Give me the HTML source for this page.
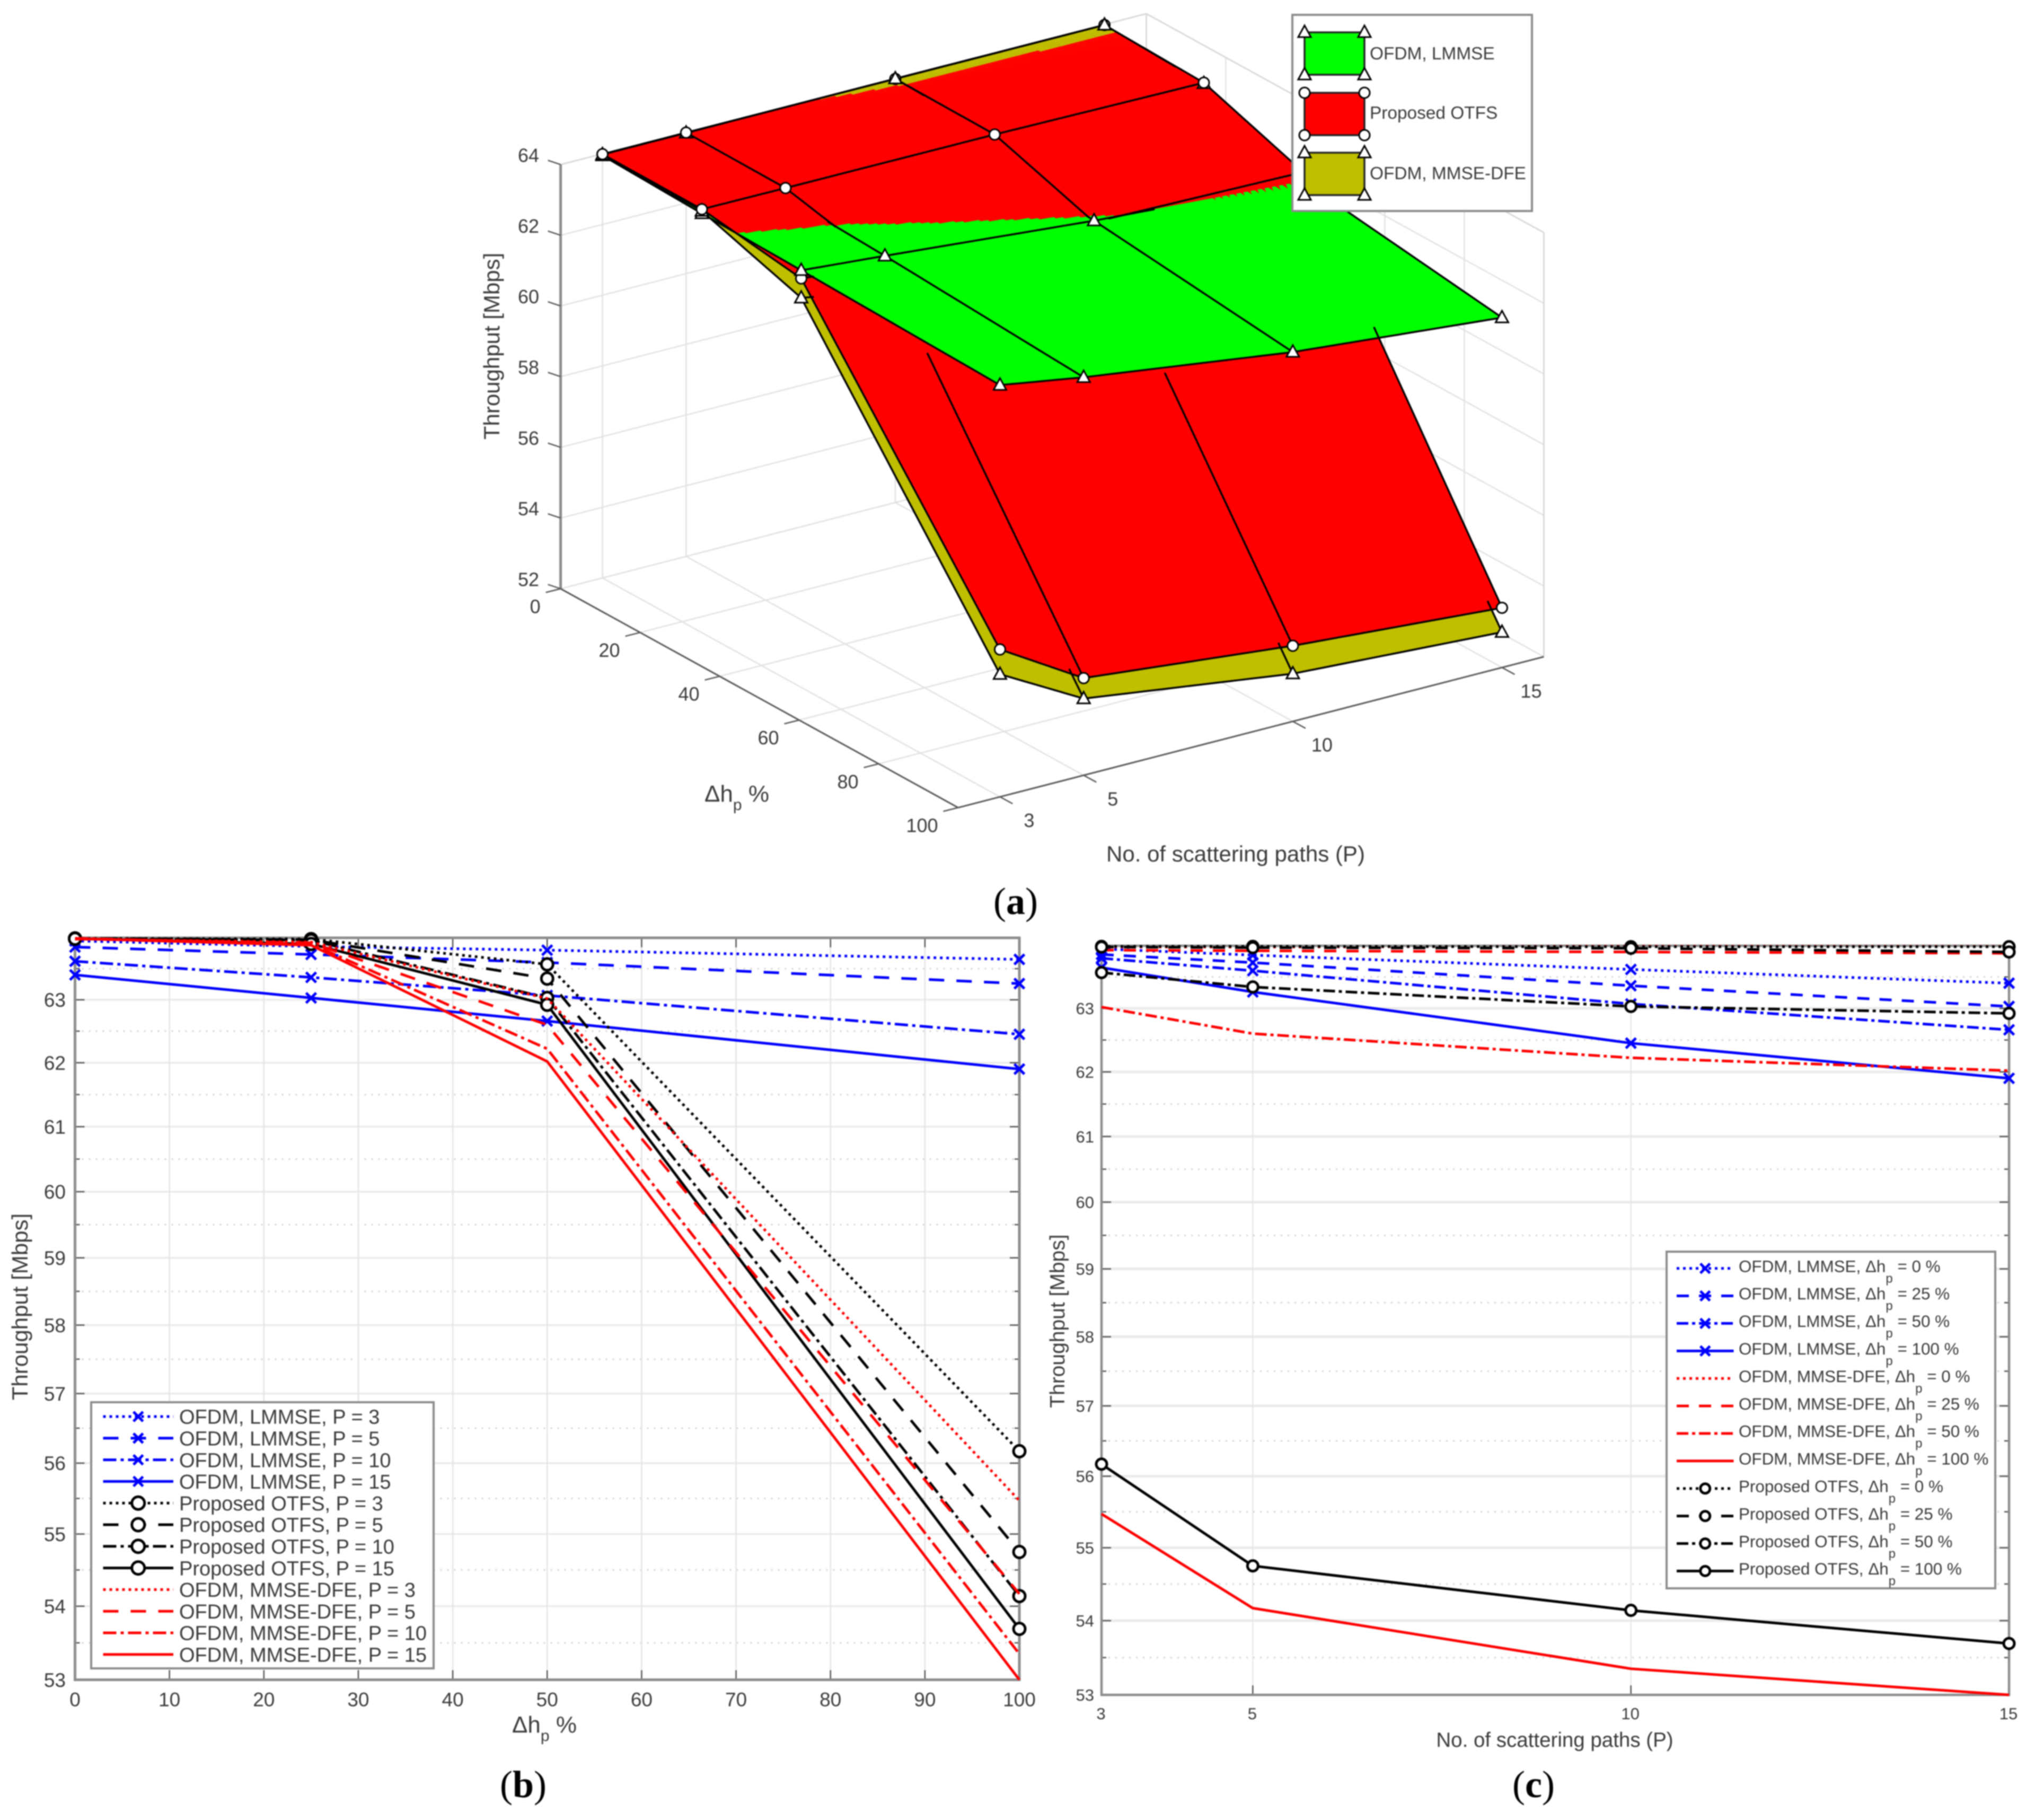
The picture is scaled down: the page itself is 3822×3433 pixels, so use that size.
<!DOCTYPE html>
<html lang="en">
<head>
<meta charset="utf-8">
<title>Throughput comparison of OFDM and Proposed OTFS</title>
<style>
html,body{margin:0;padding:0;background:#fff;}
svg{display:block;font-family:"Liberation Sans",sans-serif;white-space:pre;filter:blur(1.1px);}
</style>
</head>
<body>
<svg id="figure" xmlns="http://www.w3.org/2000/svg" width="3822" height="3433" viewBox="0 0 3822 3433">
  <rect x="0" y="0" width="3822" height="3433" fill="#ffffff"/>
  <g id="panel-a"></g>
  <g id="panel-b"></g>
  <g id="panel-c"></g>

  <text x="928" y="667" font-size="42" fill="#3a3a3a" text-anchor="middle" transform="rotate(-90 928 653)">Throughput [Mbps]</text>
  <text x="1390" y="1512" font-size="44" fill="#3a3a3a" text-anchor="middle">Δh<tspan dy="16" font-size="30">p</tspan><tspan dy="-16">  %</tspan></text>
  <text x="2331" y="1625" font-size="42" fill="#3a3a3a" text-anchor="middle">No. of scattering paths (P)</text>

  <text x="38" y="2479" font-size="42" fill="#3a3a3a" text-anchor="middle" transform="rotate(-90 38 2465)">Throughput [Mbps]</text>
  <text x="1027" y="3268" font-size="44" fill="#3a3a3a" text-anchor="middle">Δh<tspan dy="16" font-size="30">p</tspan><tspan dy="-16">  %</tspan></text>

  <text x="1994" y="2506" font-size="39" fill="#3a3a3a" text-anchor="middle" transform="rotate(-90 1994 2492)">Throughput [Mbps]</text>
  <text x="2933" y="3295" font-size="38.5" fill="#3a3a3a" text-anchor="middle">No. of scattering paths (P)</text>

  <text x="1916" y="1724" font-size="72" fill="#000" text-anchor="middle" font-family="'Liberation Serif',serif">(<tspan font-weight="bold">a</tspan>)</text>
  <text x="987" y="3390" font-size="72" fill="#000" text-anchor="middle" font-family="'Liberation Serif',serif">(<tspan font-weight="bold">b</tspan>)</text>
  <text x="2893" y="3390" font-size="72" fill="#000" text-anchor="middle" font-family="'Liberation Serif',serif">(<tspan font-weight="bold">c</tspan>)</text>
</svg>
<script>
// ---- Categories ----
const deltaValues = [0, 25, 50, 100];
const pathValues = [3, 5, 10, 15];

// ---- Throughput [Mbps]; each array is one P, columns follow deltaValues ----
const lmmseP3 = [63.95, 63.86, 63.80, 63.65];
const lmmseP5 = [63.85, 63.73, 63.60, 63.26];
const lmmseP10 = [63.62, 63.36, 63.07, 62.45];
const lmmseP15 = [63.40, 63.03, 62.66, 61.90];

const otfsP3 = [63.99, 63.98, 63.57, 56.17];
const otfsP5 = [63.99, 63.97, 63.34, 54.75];
const otfsP10 = [63.985, 63.96, 63.03, 54.14];
const otfsP15 = [63.985, 63.90, 62.92, 53.69];

const dfeP3 = [63.98, 63.93, 63.02, 55.47];
const dfeP5 = [63.98, 63.92, 62.60, 54.17];
const dfeP10 = [63.992, 63.90, 62.22, 53.35];
const dfeP15 = [63.988, 63.88, 62.02, 53.00];

// ---- Tick labels ----
const panelBXTicks = [0, 10, 20, 30, 40, 50, 60, 70, 80, 90, 100];
const panelYMajorTicks = [53, 54, 55, 56, 57, 58, 59, 60, 61, 62, 63];
const panelYMinorTicks = [53.5, 54.5, 55.5, 56.5, 57.5, 58.5, 59.5, 60.5, 61.5, 62.5, 63.5];
const panelCXTicks = [3, 5, 10, 15];
const surfaceZTicks = [52, 54, 56, 58, 60, 62, 64];
const surfaceDeltaTicks = [0, 20, 40, 60, 80, 100];
const surfacePathTicks = [3, 5, 10, 15];

// ---- Series names ----
const lmmseName = 'OFDM, LMMSE';
const otfsName = 'Proposed OTFS';
const dfeName = 'OFDM, MMSE-DFE';

const lmmseRows = [lmmseP3, lmmseP5, lmmseP10, lmmseP15];
const otfsRows = [otfsP3, otfsP5, otfsP10, otfsP15];
const dfeRows = [dfeP3, dfeP5, dfeP10, dfeP15];

const SVGNS = 'http://www.w3.org/2000/svg';
const TEXT_COLOR = '#3a3a3a';

function add(parent, tag, attrs) {
  const el = document.createElementNS(SVGNS, tag);
  for (const k in attrs) el.setAttribute(k, attrs[k]);
  parent.appendChild(el);
  return el;
}
function addText(parent, x, y, str, size, anchor) {
  const el = add(parent, 'text', {x: x, y: y + size * 0.36, 'font-size': size, fill: TEXT_COLOR, 'text-anchor': anchor});
  el.textContent = str;
  return el;
}
function dashFor(kind, big) {
  if (kind === 'dot') return '5 7';
  if (kind === 'dash') return big ? '29 23' : '23 19';
  if (kind === 'dashdot') return big ? '25 8 6 8' : '22 7 6 7';
  return 'none';
}
const lineKinds = ['dot', 'dash', 'dashdot', 'solid'];

function drawMarker(parent, type, x, y, color, size) {
  if (type === 'x') {
    const h = size;
    const el = add(parent, 'path', {
      d: 'M' + (x - h) + ' ' + (y - h) + 'L' + (x + h) + ' ' + (y + h) + 'M' + (x - h) + ' ' + (y + h) + 'L' + (x + h) + ' ' + (y - h),
      stroke: color, 'stroke-width': 5, fill: 'none'
    });
    
    
  } else if (type === 'o') {
    const el = add(parent, 'circle', {cx: x, cy: y, r: size, stroke: color, 'stroke-width': 5, fill: '#ffffff'});
    
    
  }
}

function drawLinePlot(root, cfg) {
  const L = cfg.left, R = cfg.right, T = cfg.top, B = cfg.bottom;
  const yMin = 53, yMax = 64;
  const sx = function (v) { return L + (v - cfg.xMin) / (cfg.xMax - cfg.xMin) * (R - L); };
  const sy = function (v) { return T + Math.log(yMax / v) / Math.log(yMax / yMin) * (B - T); };

  // grid
  panelYMajorTicks.forEach(function (v) {
    const el = add(root, 'line', {x1: L, x2: R, y1: sy(v), y2: sy(v), stroke: '#ebebeb', 'stroke-width': cfg.gridWidth});
    
    
  });
  panelYMinorTicks.forEach(function (v) {
    const el = add(root, 'line', {x1: L, x2: R, y1: sy(v), y2: sy(v), stroke: '#d4d4d4', 'stroke-width': 3, 'stroke-dasharray': '3 10'});
    
    
  });
  cfg.xTicks.forEach(function (v) {
    const el = add(root, 'line', {x1: sx(v), x2: sx(v), y1: T, y2: B, stroke: '#e4e4e4', 'stroke-width': cfg.gridWidthV});
    
    
  });

  // ticks
  cfg.xTicks.forEach(function (v) {
    const bottomTick = add(root, 'line', {x1: sx(v), x2: sx(v), y1: B, y2: B - 18, stroke: '#555', 'stroke-width': 2.5});
    
    
    const topTick = add(root, 'line', {x1: sx(v), x2: sx(v), y1: T, y2: T + 18, stroke: '#555', 'stroke-width': 2.5});
    
    
    const label = addText(root, sx(v) + (cfg.xLabelShift || 0), cfg.xLabelY, String(v), cfg.tickFont, 'middle');
    
    
  });
  panelYMajorTicks.forEach(function (v) {
    const leftTick = add(root, 'line', {x1: L, x2: L + 18, y1: sy(v), y2: sy(v), stroke: '#555', 'stroke-width': 2.5});
    
    
    const rightTick = add(root, 'line', {x1: R, x2: R - 18, y1: sy(v), y2: sy(v), stroke: '#555', 'stroke-width': 2.5});
    
    
    const label = addText(root, cfg.yLabelX, sy(v), String(v), cfg.tickFont, 'end');
    
    
  });
  panelYMinorTicks.forEach(function (v) {
    const leftTick = add(root, 'line', {x1: L, x2: L + 9, y1: sy(v), y2: sy(v), stroke: '#555', 'stroke-width': 2.5});
    
    
    const rightTick = add(root, 'line', {x1: R, x2: R - 9, y1: sy(v), y2: sy(v), stroke: '#555', 'stroke-width': 2.5});
    
    
  });

  // axes frame
  const frame = add(root, 'path', {
    d: 'M' + L + ' ' + T + 'H' + R + 'V' + B + 'H' + L + 'Z',
    fill: 'none', stroke: '#8c8c8c', 'stroke-width': cfg.frameWidth
  });
  
  

  // series
  cfg.series.forEach(function (s) {
    const g = add(root, 'g', {});
    
    
    let d = '';
    s.values.forEach(function (v, i) {
      d += (i ? 'L' : 'M') + sx(cfg.xValues[i]).toFixed(1) + ' ' + sy(v).toFixed(1);
    });
    const path = add(g, 'path', {d: d, fill: 'none', stroke: s.color, 'stroke-width': 5, 'stroke-dasharray': dashFor(s.kind, cfg.bigDash)});
    
    
    if (s.marker) {
      s.values.forEach(function (v, i) {
        drawMarker(g, s.marker, sx(cfg.xValues[i]), sy(v), s.color, s.marker === 'x' ? 9.5 : cfg.circleR);
      });
    }
  });

  // legend
  const lg = cfg.legend;
  const legendGroup = add(root, 'g', {});
  
  
  const box = add(legendGroup, 'rect', {x: lg.x, y: lg.y, width: lg.w, height: lg.h, fill: '#ffffff', stroke: '#8c8c8c', 'stroke-width': 4});
  
  
  cfg.series.forEach(function (s, i) {
    const rowY = lg.rowY + i * lg.rowStep;
    const lineY = rowY + lg.lineOffset;
    const sample = add(legendGroup, 'line', {x1: lg.lineX1, x2: lg.lineX2, y1: lineY, y2: lineY, stroke: s.color, 'stroke-width': 5, 'stroke-dasharray': dashFor(s.kind, cfg.bigDash)});
    
    
    if (s.marker) drawMarker(legendGroup, s.marker, (lg.lineX1 + lg.lineX2) / 2, lineY, s.color, s.marker === 'x' ? 9 : lg.circleR);
    const label = addText(legendGroup, lg.textX, rowY, s.label, lg.font, 'start');
    
    
    if (s.sub) {
      const p = add(label, 'tspan', {dy: 20, 'font-size': 24});
      p.textContent = 'p';
      const rest = add(label, 'tspan', {dy: -20});
      rest.textContent = s.sub;
    }
  });
}

// ---- Panel (b) ----
const bSeries = [];
[[lmmseRows, lmmseName, '#0000ff', 'x'], [otfsRows, otfsName, '#000000', 'o'], [dfeRows, dfeName, '#ff0000', null]].forEach(function (sch) {
  sch[0].forEach(function (row, i) {
    bSeries.push({values: row, label: sch[1] + ', P = ' + pathValues[i], color: sch[2], marker: sch[3], kind: lineKinds[i]});
  });
});
drawLinePlot(document.getElementById('panel-b'), {
  left: 141.5, right: 1923, top: 1769, bottom: 3168.5,
  xMin: 0, xMax: 100, xValues: deltaValues, xTicks: panelBXTicks,
  xLabelY: 3205, yLabelX: 124, tickFont: 37, frameWidth: 5, gridWidth: 3.5, gridWidthV: 2.5,
  bigDash: true, circleR: 11, series: bSeries,
  legend: {x: 172, y: 2645, w: 646, h: 502, rowY: 2672, rowStep: 40.8, lineOffset: 0, lineX1: 194.5, lineX2: 327, textX: 338, font: 38, circleR: 12}
});

// ---- Panel (c) ----
const cSeries = [];
[[lmmseRows, lmmseName, '#0000ff', 'x'], [dfeRows, dfeName, '#ff0000', null], [otfsRows, otfsName, '#000000', 'o']].forEach(function (sch) {
  deltaValues.forEach(function (delta, j) {
    cSeries.push({
      values: sch[0].map(function (row) { return row[j]; }),
      label: sch[1] + ', Δh', sub: ' = ' + delta + ' %',
      color: sch[2], marker: sch[3], kind: lineKinds[j]
    });
  });
});
drawLinePlot(document.getElementById('panel-c'), {
  left: 2078, right: 3790, top: 1784, bottom: 3197,
  xMin: 3, xMax: 15, xValues: pathValues, xTicks: panelCXTicks,
  xLabelY: 3232, xLabelShift: -1, yLabelX: 2064, tickFont: 31, frameWidth: 4.5, gridWidth: 5, gridWidthV: 2,
  bigDash: false, circleR: 10, series: cSeries,
  legend: {x: 3144, y: 2361, w: 620, h: 635, rowY: 2388, rowStep: 51.9, lineOffset: 4.5, lineX1: 3163, lineX2: 3270.5, textX: 3280, font: 31.4, circleR: 9}
});

// ---- Panel (a): orthographic 3-D surfaces ----
const panelA = document.getElementById('panel-a');
const P_MIN = 2, P_MAX = 16, Z_MIN = 52, Z_MAX = 64;
const ORIGIN_X = 1057.6, ORIGIN_Y = 1110.5;
const P_DX = 78.92, P_DY = -20.33, D_DX = 7.499, D_DY = 4.129, Z_DY = -66.67;

function proj(p, d, z) {
  return [ORIGIN_X + (p - P_MIN) * P_DX + d * D_DX, ORIGIN_Y + (p - P_MIN) * P_DY + d * D_DY + (z - Z_MIN) * Z_DY];
}
function depth(p, d, z) { return -p / 196 + d * 0.001052 + z * 0.00664; }

function segment(parent, a, b, color, width) {
  const el = add(parent, 'line', {x1: a[0], y1: a[1], x2: b[0], y2: b[1], stroke: color, 'stroke-width': width});
  return el;
}

// walls and floor grid
surfaceZTicks.forEach(function (z) {
  const a = segment(panelA, proj(P_MIN, 0, z), proj(P_MAX, 0, z), '#e2e2e2', 2.5);
  
  
  const b = segment(panelA, proj(P_MAX, 0, z), proj(P_MAX, 100, z), '#e2e2e2', 2.5);
  
  
});
surfacePathTicks.forEach(function (p) {
  const a = segment(panelA, proj(p, 0, Z_MIN), proj(p, 100, Z_MIN), '#e2e2e2', 2.5);
  
  
  const b = segment(panelA, proj(p, 0, Z_MIN), proj(p, 0, Z_MAX), '#e2e2e2', 2.5);
  
  
});
surfaceDeltaTicks.forEach(function (d) {
  const a = segment(panelA, proj(P_MIN, d, Z_MIN), proj(P_MAX, d, Z_MIN), '#e2e2e2', 2.5);
  
  
  const b = segment(panelA, proj(P_MAX, d, Z_MIN), proj(P_MAX, d, Z_MAX), '#e2e2e2', 2.5);
  
  
});
[[P_MAX, 0, Z_MIN, P_MAX, 0, Z_MAX], [P_MAX, 100, Z_MIN, P_MAX, 100, Z_MAX], [P_MIN, 0, Z_MAX, P_MAX, 0, Z_MAX], [P_MAX, 0, Z_MAX, P_MAX, 100, Z_MAX]].forEach(function (c) {
  const e = segment(panelA, proj(c[0], c[1], c[2]), proj(c[3], c[4], c[5]), '#d6d6d6', 2.5);
  
  
});

// axes
const zAxis = segment(panelA, proj(P_MIN, 0, Z_MIN), proj(P_MIN, 0, Z_MAX), '#8c8c8c', 5);


const dAxis = segment(panelA, proj(P_MIN, 0, Z_MIN), proj(P_MIN, 100, Z_MIN), '#5a5a5a', 3);


const pAxis = segment(panelA, proj(P_MIN, 100, Z_MIN), proj(P_MAX, 100, Z_MIN), '#5a5a5a', 3);



surfaceZTicks.forEach(function (z) {
  const q = proj(P_MIN, 0, z);
  const t = segment(panelA, q, [q[0] - 24, q[1] - 8], '#5a5a5a', 2.5);
  
  
  const lab = addText(panelA, 1017, q[1] - 18, String(z), 36, 'end');
  
  
});
surfaceDeltaTicks.forEach(function (d) {
  const q = proj(P_MIN, d, Z_MIN);
  const t = segment(panelA, q, [q[0] - 28, q[1] + 7], '#5a5a5a', 2.5);
  
  
  const lab = addText(panelA, q[0] - 38, q[1] + 33, String(d), 36, 'end');
  
  
});
surfacePathTicks.forEach(function (p) {
  const q = proj(p, 100, Z_MIN);
  const t = segment(panelA, [q[0], q[1]], [q[0] + 24, q[1] + 13], '#5a5a5a', 2.5);
  
  
  const lab = addText(panelA, q[0] + 55, q[1] + 44, String(p), 36, 'middle');
  
  
});

// surfaces
const surfaces = [
  {rows: lmmseRows, color: '#00ff00', marker: 'tri'},
  {rows: otfsRows, color: '#ff0000', marker: 'circ'},
  {rows: dfeRows, color: '#bfbf00', marker: 'tri'}
];
const SUBDIV_PER_PATH = 6;
const SUBDIV_DELTA = [48, 48, 16];
const quads = [];
function lerp(a, b, t) { return a + (b - a) * t; }
surfaces.forEach(function (surf) {
  for (let i = 0; i < pathValues.length - 1; i++) {
    const ns = (pathValues[i + 1] - pathValues[i]) * SUBDIV_PER_PATH;
    for (let j = 0; j < deltaValues.length - 1; j++) {
      const nt = SUBDIV_DELTA[j];
      const z00 = surf.rows[i][j], z10 = surf.rows[i + 1][j], z01 = surf.rows[i][j + 1], z11 = surf.rows[i + 1][j + 1];
      const corner = function (s, t) {
        const p = lerp(pathValues[i], pathValues[i + 1], s);
        const d = lerp(deltaValues[j], deltaValues[j + 1], t);
        const z = lerp(lerp(z00, z10, s), lerp(z01, z11, s), t);
        const xy = proj(p, d, z);
        return {x: xy[0], y: xy[1], w: depth(p, d, z)};
      };
      for (let a = 0; a < ns; a++) {
        for (let b = 0; b < nt; b++) {
          const v = [corner(a / ns, b / nt), corner((a + 1) / ns, b / nt), corner((a + 1) / ns, (b + 1) / nt), corner(a / ns, (b + 1) / nt)];
          quads.push({v: v, surf: surf, w: (v[0].w + v[1].w + v[2].w + v[3].w) / 4,
            minX: Math.min(v[0].x, v[1].x, v[2].x, v[3].x), maxX: Math.max(v[0].x, v[1].x, v[2].x, v[3].x),
            minY: Math.min(v[0].y, v[1].y, v[2].y, v[3].y), maxY: Math.max(v[0].y, v[1].y, v[2].y, v[3].y)});
        }
      }
    }
  }
});
quads.sort(function (a, b) { return a.w - b.w; });
const surfaceGroup = add(panelA, 'g', {});


quads.forEach(function (q) {
  const pts = q.v.map(function (c) { return c.x.toFixed(1) + ',' + c.y.toFixed(1); }).join(' ');
  const poly = add(surfaceGroup, 'polygon', {points: pts, fill: q.surf.color, stroke: q.surf.color, 'stroke-width': 1});
  
  
});

function triDepth(a, b, c, x, y) {
  const det = (b.y - c.y) * (a.x - c.x) + (c.x - b.x) * (a.y - c.y);
  if (Math.abs(det) < 1e-9) return null;
  const l1 = ((b.y - c.y) * (x - c.x) + (c.x - b.x) * (y - c.y)) / det;
  const l2 = ((c.y - a.y) * (x - c.x) + (a.x - c.x) * (y - c.y)) / det;
  const l3 = 1 - l1 - l2;
  if (l1 < 0 || l2 < 0 || l3 < 0) return null;
  return l1 * a.w + l2 * b.w + l3 * c.w;
}
function occluded(x, y, w, surf, eps) {
  for (let k = 0; k < quads.length; k++) {
    const q = quads[k];
    if (x < q.minX || x > q.maxX || y < q.minY || y > q.maxY) continue;
    if (q.surf === surf) continue;
    let dw = triDepth(q.v[0], q.v[1], q.v[2], x, y);
    if (dw === null) dw = triDepth(q.v[0], q.v[2], q.v[3], x, y);
    if (dw !== null && dw > w + eps) return true;
  }
  return false;
}

// mesh lines
const SEG = 14;
surfaces.forEach(function (surf) {
  let d = '';
  const addEdge = function (p0, d0, z0, p1, d1, z1) {
    for (let s = 0; s < SEG; s++) {
      const t0 = s / SEG, t1 = (s + 1) / SEG, tm = (s + 0.5) / SEG;
      const pm = lerp(p0, p1, tm), dm = lerp(d0, d1, tm), zm = lerp(z0, z1, tm);
      const m = proj(pm, dm, zm);
      if (occluded(m[0], m[1], depth(pm, dm, zm), surf, 0.0003)) continue;
      const a = proj(lerp(p0, p1, t0), lerp(d0, d1, t0), lerp(z0, z1, t0));
      const b = proj(lerp(p0, p1, t1), lerp(d0, d1, t1), lerp(z0, z1, t1));
      d += 'M' + a[0].toFixed(1) + ' ' + a[1].toFixed(1) + 'L' + b[0].toFixed(1) + ' ' + b[1].toFixed(1);
    }
  };
  for (let i = 0; i < pathValues.length; i++) {
    for (let j = 0; j < deltaValues.length; j++) {
      if (j + 1 < deltaValues.length) addEdge(pathValues[i], deltaValues[j], surf.rows[i][j], pathValues[i], deltaValues[j + 1], surf.rows[i][j + 1]);
      if (i + 1 < pathValues.length) addEdge(pathValues[i], deltaValues[j], surf.rows[i][j], pathValues[i + 1], deltaValues[j], surf.rows[i + 1][j]);
    }
  }
  const mesh = add(panelA, 'path', {d: d, fill: 'none', stroke: '#000000', 'stroke-width': 3.5, 'stroke-linecap': 'round'});
  
  
});

function triangleMarker(parent, x, y) {
  const pts = (x) + ',' + (y - 13) + ' ' + (x + 12) + ',' + (y + 9) + ' ' + (x - 12) + ',' + (y + 9);
  const el = add(parent, 'polygon', {points: pts, fill: '#ffffff', stroke: '#000000', 'stroke-width': 3});
  
  
}
function circleMarker(parent, x, y) {
  const el = add(parent, 'circle', {cx: x, cy: y, r: 10, fill: '#ffffff', stroke: '#000000', 'stroke-width': 3});
  
  
}
// markers on each grid vertex, lowest first so the top surface's marker wins
const vertexMarkers = [];
surfaces.forEach(function (surf) {
  pathValues.forEach(function (p, i) {
    deltaValues.forEach(function (dv, j) {
      const z = surf.rows[i][j];
      const q = proj(p, dv, z);
      if (occluded(q[0], q[1], depth(p, dv, z), surf, 0.0005)) return;
      vertexMarkers.push({x: q[0], y: q[1], w: depth(p, dv, z), type: surf.marker});
    });
  });
});
vertexMarkers.sort(function (a, b) { return a.w - b.w; });
vertexMarkers.forEach(function (m) {
  if (m.type === 'tri') triangleMarker(panelA, m.x, m.y);
  else circleMarker(panelA, m.x, m.y);
});

// legend of panel (a)
const aLegend = add(panelA, 'g', {});


const aBox = add(aLegend, 'rect', {x: 2438, y: 28, width: 452, height: 370, fill: '#ffffff', stroke: '#8c8c8c', 'stroke-width': 4});


[[lmmseName, '#00ff00', 'tri', 61, 100], [otfsName, '#ff0000', 'circ', 175, 212], [dfeName, '#bfbf00', 'tri', 288, 326]].forEach(function (e) {
  const swatch = add(aLegend, 'rect', {x: 2461, y: e[3], width: 113, height: 80, fill: e[1], stroke: '#222222', 'stroke-width': 3.5});
  
  
  [[2461, e[3]], [2574, e[3]], [2461, e[3] + 80], [2574, e[3] + 80]].forEach(function (c) {
    if (e[2] === 'tri') triangleMarker(aLegend, c[0], c[1]);
    else circleMarker(aLegend, c[0], c[1]);
  });
  const label = addText(aLegend, 2584, e[4], e[0], 33.4, 'start');
  
  
});
</script>
</body>
</html>
